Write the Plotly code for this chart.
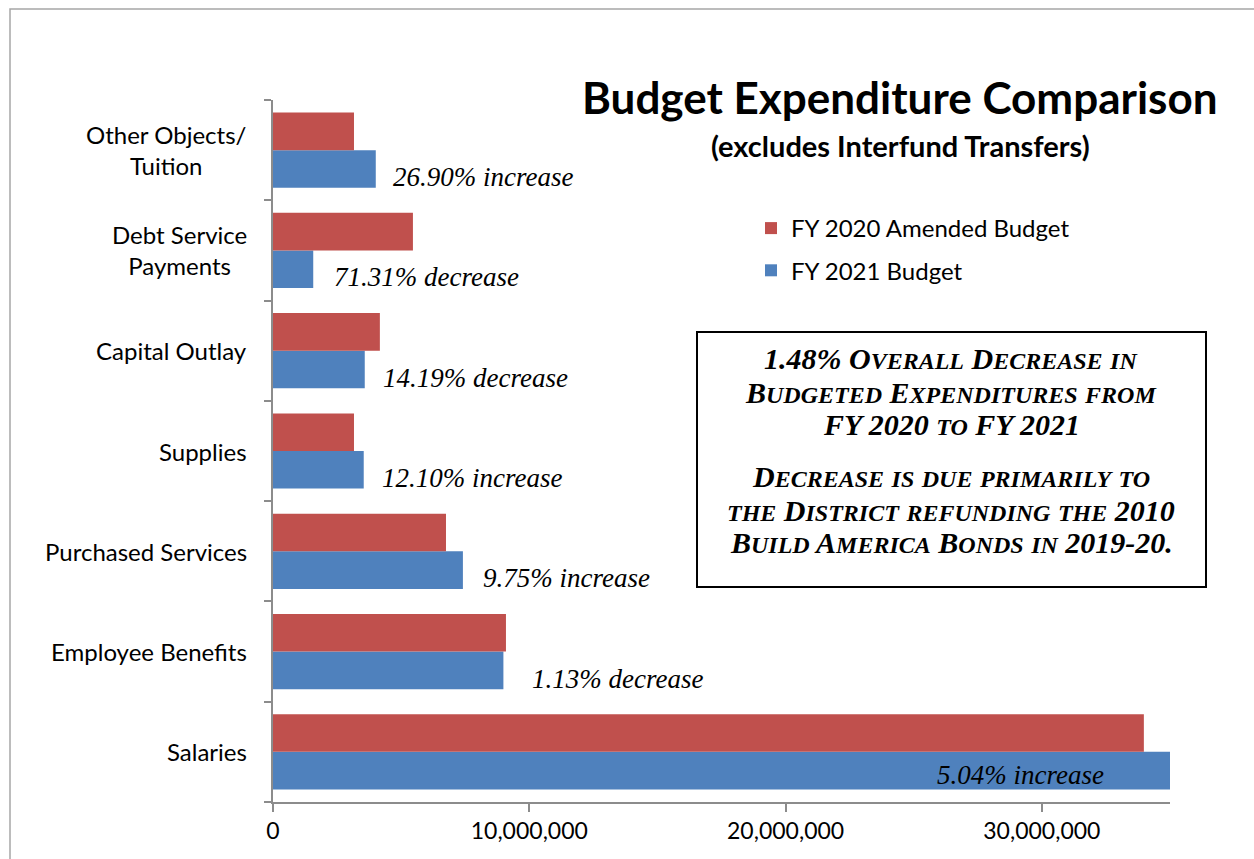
import plotly.graph_objects as go

# Expenditure categories, bottom to top
categories = [
    "Salaries",
    "Employee Benefits",
    "Purchased Services",
    "Supplies",
    "Capital Outlay",
    "Debt Service Payments",
    "Other Objects/Tuition",
]
category_labels = [
    "Salaries",
    "Employee Benefits",
    "Purchased Services",
    "Supplies",
    "Capital Outlay",
    "Debt Service<br>Payments",
    "Other Objects/<br>Tuition",
]
fy2020_amended = [33980000, 9090000, 6750000, 3160000, 4170000, 5460000, 3160000]
fy2021_budget = [35690000, 8990000, 7410000, 3540000, 3580000, 1570000, 4010000]
change_labels = [
    "5.04% increase",
    "1.13% decrease",
    "9.75% increase",
    "12.10% increase",
    "14.19% decrease",
    "71.31% decrease",
    "26.90% increase",
]
x_tickvals = [0, 10000000, 20000000, 30000000]
x_max = 35000000

RED = "#C0504D"
BLUE = "#4F81BD"
AXIS = "#8C8C8C"
SANS = "Lato, Open Sans, sans-serif"
SERIF = "Liberation Serif, Times New Roman, serif"

W, H = 1254, 859
L, R, T, B = 273, 84, 100, 57
PW, PH = W - L - R, H - T - B


def px(x):
    return (x - L) / PW


def py(y):
    return (H - B - y) / PH


fig = go.Figure()
fig.add_trace(go.Bar(
    y=categories, x=fy2021_budget, orientation="h", name="FY 2021 Budget",
    marker=dict(color=BLUE, line=dict(width=0)), legendrank=2, legendgroup="b",
))
fig.add_trace(go.Bar(
    y=categories, x=fy2020_amended, orientation="h", name="FY 2020 Amended Budget",
    marker=dict(color=RED, line=dict(width=0)), legendrank=1, legendgroup="a",
))

annotations = []

# category labels, centred per line and right-aligned to the axis
for cat, lab in zip(categories, category_labels):
    annotations.append(dict(
        x=px(249), xref="paper", y=cat, yref="y", text=lab, showarrow=False,
        xanchor="right", yanchor="middle", align="center",
        font=dict(family=SANS, size=24, color="#000"),
    ))

# percentage change labels next to the FY 2021 bars
label_gap = [0, 27, 18, 16, 16, 19, 15]
for i, (cat, val, txt) in enumerate(zip(categories, fy2021_budget, change_labels)):
    if val > x_max:
        annotations.append(dict(
            x=x_max, xref="x", y=cat, yref="y", text=txt, showarrow=False,
            xanchor="right", yanchor="middle", xshift=-64, yshift=-23,
            font=dict(family=SERIF, size=27, color="#000", style="italic"),
        ))
    else:
        annotations.append(dict(
            x=val, xref="x", y=cat, yref="y", text=txt, showarrow=False,
            xanchor="left", yanchor="middle", xshift=label_gap[i], yshift=-27,
            font=dict(family=SERIF, size=27, color="#000", style="italic"),
        ))

# title and subtitle
annotations.append(dict(
    x=px(900), y=py(97), xref="paper", yref="paper", showarrow=False,
    text="<b>Budget Expenditure Comparison</b>", xanchor="center", yanchor="middle",
    font=dict(family=SANS, size=44, color="#000"),
))
annotations.append(dict(
    x=px(900), y=py(145), xref="paper", yref="paper", showarrow=False,
    text="<b>(excludes Interfund Transfers)</b>", xanchor="center", yanchor="middle",
    font=dict(family=SANS, size=29, color="#000"),
))

BIG, SMALL = 30, 24


def small_caps(word):
    head = ""
    rest = word
    if word[0].isupper() or word[0].isdigit():
        head, rest = word[0], word[1:]
    parts = []
    if head:
        parts.append(f'<span style="font-size:{BIG}px">{head}</span>')
    buf, mode = "", None
    for ch in rest:
        m = "s" if ch.isalpha() else "b"
        if mode is not None and m != mode:
            sz = SMALL if mode == "s" else BIG
            parts.append(f'<span style="font-size:{sz}px">{buf.upper()}</span>')
            buf = ""
        buf += ch
        mode = m
    if buf:
        sz = SMALL if mode == "s" else BIG
        parts.append(f'<span style="font-size:{sz}px">{buf.upper()}</span>')
    return "".join(parts)


note_lines = [
    "1.48% Overall Decrease in",
    "Budgeted Expenditures from",
    "FY 2020 to FY 2021",
    "Decrease is due primarily to",
    "the District refunding the 2010",
    "Build America Bonds in 2019-20.",
]
note_y = [358, 392, 425, 477, 510, 542]
for line, yy in zip(note_lines, note_y):
    # all-caps tokens such as "FY" stay at full height
    txt = " ".join(
        f'<span style="font-size:{BIG}px">{w}</span>' if w.isupper() else small_caps(w)
        for w in line.split(" ")
    )
    annotations.append(dict(
        x=px(951), y=py(yy), xref="paper", yref="paper", showarrow=False,
        text=f"<b><i>{txt}</i></b>", xanchor="center", yanchor="middle",
        font=dict(family=SERIF, size=BIG, color="#000"),
    ))

shapes = [
    # outer chart frame
    dict(type="rect", xref="paper", yref="paper", x0=px(10), y0=py(H + 20),
         x1=px(W + 20), y1=py(9), line=dict(color="#A6A6A6", width=1.5)),
    # note box
    dict(type="rect", xref="paper", yref="paper", x0=px(697), y0=py(587),
         x1=px(1206), y1=py(332), line=dict(color="#000", width=2)),
]

fig.update_layout(
    width=W, height=H,
    margin=dict(l=L, r=R, t=T, b=B, autoexpand=False),
    paper_bgcolor="white", plot_bgcolor="white",
    barmode="group", bargap=0.25, bargroupgap=0,
    showlegend=True,
    legend=dict(
        x=px(751), y=py(206), xanchor="left", yanchor="top",
        font=dict(family=SANS, size=24, color="#000"),
        tracegroupgap=8, bgcolor="rgba(0,0,0,0)", itemwidth=30,
    ),
    annotations=annotations,
    shapes=shapes,
    xaxis=dict(
        range=[0, x_max], tickvals=x_tickvals, tickformat=",d",
        showgrid=False, zeroline=False, showline=True, linecolor=AXIS, linewidth=1.5,
        ticks="outside", ticklen=8, tickcolor=AXIS, tickwidth=1.5,
        tickfont=dict(family=SANS, size=23, color="#000"),
    ),
    yaxis=dict(
        type="category", categoryorder="array", categoryarray=categories,
        showgrid=False, zeroline=False, showline=True, linecolor=AXIS, linewidth=1.5,
        ticks="outside", ticklen=7, tickcolor=AXIS, tickwidth=1.5, tickson="boundaries",
        showticklabels=False,
    ),
)

fig.write_html("out.html")
